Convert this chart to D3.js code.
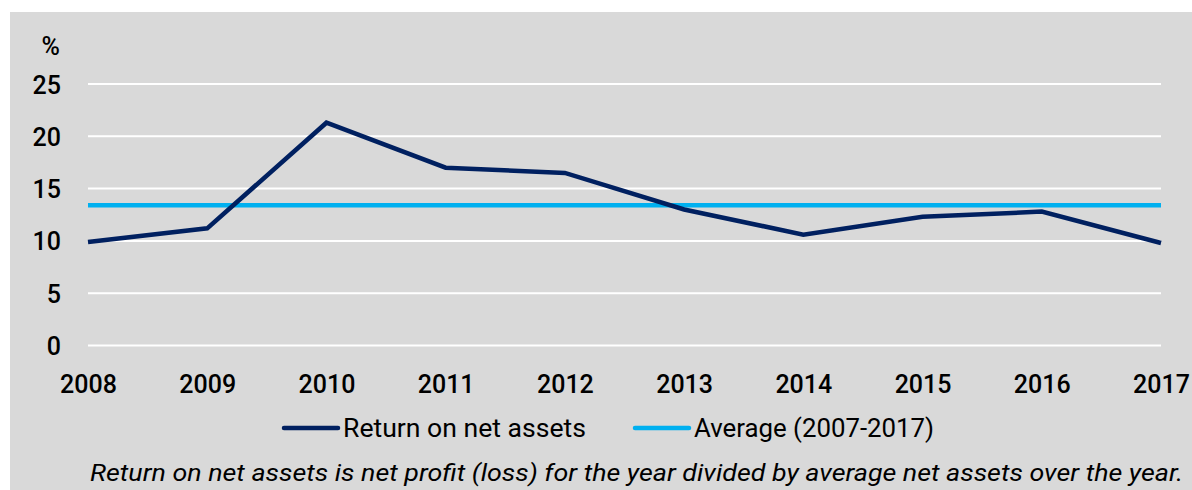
<!DOCTYPE html>
<html>
<head>
<meta charset="utf-8">
<script src="https://cdn.jsdelivr.net/npm/d3@7"></script>
<style>
	body{margin:0;background:#fff;}
	svg text{font-family:Roboto, "DejaVu Sans", sans-serif;fill:#000;}
</style>
</head>
<body>
<svg id="chart" width="1192" height="490"></svg>
<script>
// chart values
const years = [2008, 2009, 2010, 2011, 2012, 2013, 2014, 2015, 2016, 2017];
const returnOnNetAssets = [9.9, 11.2, 21.3, 17.0, 16.5, 13.0, 10.6, 12.3, 12.8, 9.8];
const averageValue = 13.4;
const yTicks = [0, 5, 10, 15, 20, 25];
const seriesNames = ["Return on net assets", "Average (2007-2017)"];
const footnote = "Return on net assets is net profit (loss) for the year divided by average net assets over the year.";

const width = 1192,
	height = 490,
	margin = {top: 84, right: 31, bottom: 144, left: 88},
	darkBlue = "#002060",
	lightBlue = "#00b0f0";

const svg = d3.select("#chart");

// grey panel
svg.append("rect")
	.attr("x", 10).attr("y", 12)
	.attr("width", width - 10).attr("height", height - 12)
	.attr("fill", "#d9d9d9");

const x = d3.scaleLinear()
	.domain([years[0], years[years.length - 1]])
	.range([margin.left, width - margin.right]);

const y = d3.scaleLinear()
	.domain([0, 25])
	.range([height - margin.bottom - 0.5, margin.top]);

// gridlines
svg.append("g").attr("class", "grid")
	.selectAll("line")
	.data(yTicks)
	.enter().append("line")
	.attr("x1", x.range()[0])
	.attr("x2", x.range()[1])
	.attr("y1", d => y(d))
	.attr("y2", d => y(d))
	.attr("stroke", "#fff")
	.attr("stroke-width", 2);

// y axis labels
const yAxis = d3.axisLeft(y).tickValues(yTicks).tickSize(0).tickPadding(0);
svg.append("g")
	.attr("transform", "translate(61,0)")
	.call(yAxis)
	.call(g => g.select(".domain").remove())
	.call(g => g.selectAll("text")
		.attr("text-anchor", "end")
		.attr("dy", "0.36em")
		.style("font-size", "25px")
		.style("font-weight", "500")
		.style("font-family", "Roboto, sans-serif"));

svg.append("text")
	.attr("x", 60).attr("y", 55)
	.attr("text-anchor", "end")
	.style("font-size", "25px")
	.style("font-weight", "500")
	.text("%");

// x axis labels
const xAxis = d3.axisBottom(x).tickValues(years).tickFormat(d3.format("d")).tickSize(0).tickPadding(0);
svg.append("g")
	.attr("transform", "translate(0,375)")
	.call(xAxis)
	.call(g => g.select(".domain").remove())
	.call(g => g.selectAll("text")
		.attr("dy", "0.71em")
		.style("font-size", "25px")
		.style("font-weight", "500")
		.style("font-family", "Roboto, sans-serif"));

// average line
svg.append("line")
	.attr("x1", x.range()[0])
	.attr("x2", x.range()[1])
	.attr("y1", y(averageValue))
	.attr("y2", y(averageValue))
	.attr("stroke", lightBlue)
	.attr("stroke-width", 4.5);

// return on net assets line
const line = d3.line()
	.x((d, i) => x(years[i]))
	.y(d => y(d));

svg.append("path")
	.datum(returnOnNetAssets)
	.attr("d", line)
	.attr("fill", "none")
	.attr("stroke", darkBlue)
	.attr("stroke-width", 4.5)
	.attr("stroke-linejoin", "miter");

// legend
const legendItems = [
	{name: seriesNames[0], color: darkBlue, x: 284, w: 243},
	{name: seriesNames[1], color: lightBlue, x: 635, w: 240}
];
const legend = svg.append("g").attr("class", "legend");
legendItems.forEach(function(item){
	legend.append("line")
		.attr("x1", item.x).attr("x2", item.x + 54)
		.attr("y1", 428).attr("y2", 428)
		.attr("stroke", item.color)
		.attr("stroke-width", 4.5)
		.attr("stroke-linecap", "round");
	legend.append("text")
		.attr("x", item.x + 59).attr("y", 437)
		.style("font-size", "25px")
		.attr("textLength", item.w)
		.attr("lengthAdjust", "spacingAndGlyphs")
		.text(item.name);
});

// footnote
svg.append("text")
	.attr("x", 90).attr("y", 481)
	.style("font-size", "24px")
	.style("font-style", "italic")
	.attr("textLength", 1093)
	.attr("lengthAdjust", "spacingAndGlyphs")
	.text(footnote);
</script>
</body>
</html>
